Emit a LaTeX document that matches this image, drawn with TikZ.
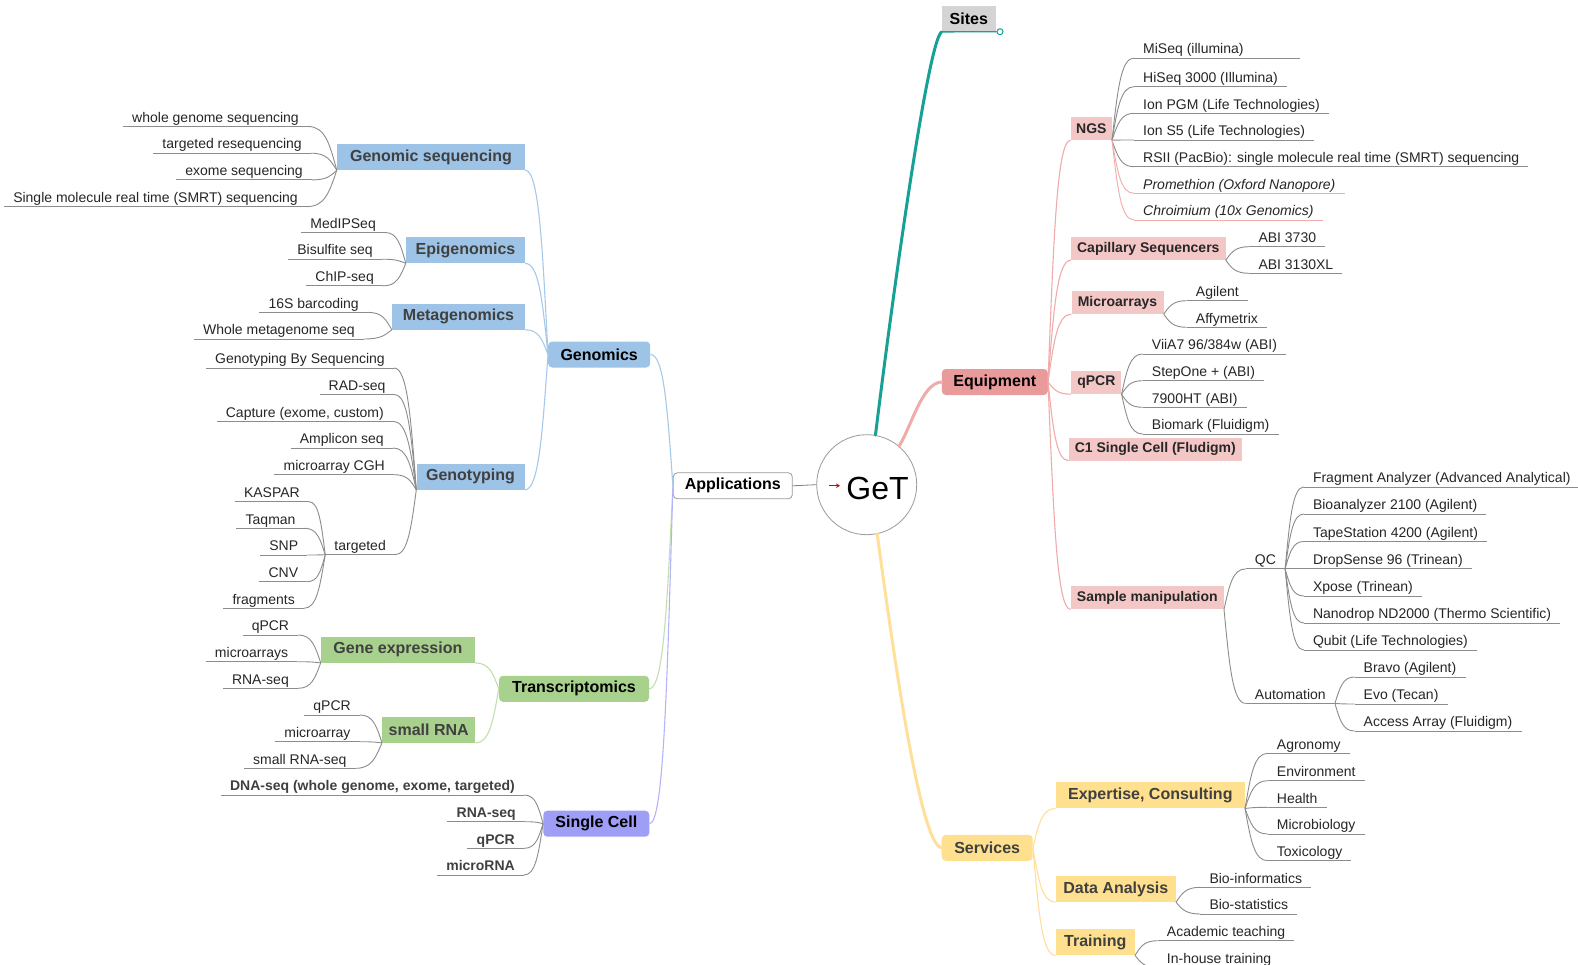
\documentclass[tikz,border=0pt]{standalone}
\usepackage{fontspec}
\setmainfont{Liberation Sans}
\usetikzlibrary{calc,arrows.meta}
\definecolor{blueF}{HTML}{9DC3E6}
\definecolor{blueL}{HTML}{A6C9EA}
\definecolor{greenF}{HTML}{A9D18E}
\definecolor{greenL}{HTML}{C2DFAE}
\definecolor{lavF}{HTML}{9E9EF7}
\definecolor{lavL}{HTML}{B4B4FA}
\definecolor{redF}{HTML}{E99A9A}
\definecolor{pinkF}{HTML}{F4C7C7}
\definecolor{pinkL}{HTML}{F0ABAB}
\definecolor{yelF}{HTML}{FFE08F}
\definecolor{yelL}{HTML}{FFE09A}
\definecolor{tealL}{HTML}{17A096}
\definecolor{sitesF}{HTML}{D4D4D4}
\definecolor{leafL}{HTML}{8C8C8C}
\definecolor{txt}{HTML}{262626}
\definecolor{dtxt}{HTML}{404040}
\definecolor{circG}{HTML}{9A9A9A}
\tikzset{
  leaf/.style={font=\fontsize{14}{16}\selectfont, text=txt, inner xsep=9pt, inner ysep=0pt, text height=11pt, text depth=4pt},
  ul/.style={color=leafL, line width=0.9pt},
  box/.style={inner xsep=6pt, inner ysep=0pt, minimum height=26pt, font=\fontsize{16}{18}\selectfont\bfseries, text=dtxt},
  lone/.style={box, rounded corners=4pt, text=black},
  ebox/.style={box, fill=pinkF, font=\fontsize{14}{16}\selectfont\bfseries, text=txt, minimum height=23pt},
  brl/.style={line width=1.1pt},
  mainbr/.style={line width=3pt, line cap=round},
}
\newcommand\mmlink[3][]{\draw[#1] let \p1=(#2), \p2=(#3) in (\p1) .. controls ({\x1+0.25*(\x2-\x1)},{\y1+0.6*(\y2-\y1)}) and ({\x1+0.4*(\x2-\x1)},\y2) .. (\p2);}
\newcommand\leafL[6][]{%
  \node[leaf,anchor=south east] (#2) at ({#4+9},#5) {#6};
  \draw[ul,#1] (#2.south east) -- (#2.south west);
  \mmlink[ul,#1]{#3}{#2.south east}}
\newcommand\leafR[6][]{%
  \node[leaf,anchor=south west] (#2) at ({#4-9},#5) {#6};
  \draw[ul,#1] (#2.south west) -- (#2.south east);
  \mmlink[ul,#1]{#3}{#2.south west}}
\newcommand\scb{\bfseries\color{dtxt}}
\begin{document}
\begin{tikzpicture}[x=1pt,y=-1pt]
\useasboundingbox (0,0) rectangle (1578,965);
\fill[white] (0,0) rectangle (1578,965);

% ---------- centre ----------
\node[circle, draw=circG, fill=white, minimum size=100pt, inner sep=0pt, line width=0.8pt] (get) at (866.7,484.7) {};
\node[font=\fontsize{32}{36}\selectfont, anchor=base, inner sep=0pt] (gett) at (877.5,499) {GeT};
\draw[red!85!black, line width=1pt, -{Stealth[length=4pt,width=4.5pt]}] (829,485.7) -- (840,485.7);
\node[lone, draw=circG, fill=white, minimum width=119pt, line width=0.8pt] (app) at (732.8,485.8) {Applications};
\draw[gray, line width=0.8pt] (app.east) -- (get.west);

% ---------- right level 1 ----------
\node[box, fill=sitesF, text=black, minimum width=54pt] (sites) at (968.8,18.7) {Sites};
\node[circle, draw=tealL, fill=white, inner sep=0pt, minimum size=6pt, line width=1pt] (sind) at (1000,31.7) {};
\node[lone, fill=redF, minimum width=106pt] (equip) at (994.8,382) {Equipment};
\node[lone, fill=yelF, text=dtxt, minimum width=91pt] (serv) at (987.2,847.8) {Services};

\draw[mainbr, tealL] (get.80) .. controls (892,300) and (928,40) .. (sites.south west);
\draw[tealL, line width=1.3pt] (sites.south west) -- (sind.west);
\draw[mainbr, pinkL] (get.50) .. controls (912,425) and (922,383) .. (equip.west);
\draw[mainbr, yelL] (get.-78) .. controls (893,650) and (920,845) .. (serv.west);

% ---------- left level 1 ----------
\node[lone, fill=blueF, minimum width=102pt] (gen) at (599.2,354.5) {Genomics};
\node[lone, fill=greenF, minimum width=150pt] (trs) at (574,688.8) {Transcriptomics};
\node[lone, fill=lavF, minimum width=106pt] (sc) at (596.3,823.7) {Single Cell};
\mmlink[brl, blueL]{app.west}{gen.east}
\mmlink[brl, greenL]{app.west}{trs.east}
\mmlink[brl, lavL]{app.west}{sc.east}

% ---------- Genomics ----------
\node[box, fill=blueF, minimum width=188pt] (gs) at (431,157) {Genomic sequencing};
\node[box, fill=blueF, minimum width=119pt] (epi) at (465.5,250.2) {Epigenomics};
\node[box, fill=blueF, minimum width=133pt] (meta) at (458.5,316.6) {Metagenomics};
\node[box, fill=blueF, minimum width=108pt] (gty) at (470.5,476.7) {Genotyping};
\mmlink[brl, blueL]{gen.west}{gs.south east}
\mmlink[brl, blueL]{gen.west}{epi.south east}
\mmlink[brl, blueL]{gen.west}{meta.south east}
\mmlink[brl, blueL]{gen.west}{gty.south east}

\leafL{l1}{gs.south west}{299}{126.5}{whole genome sequencing}
\leafL{l2}{gs.south west}{302}{153.2}{targeted resequencing}
\leafL{l3}{gs.south west}{303}{179.9}{exome sequencing}
\leafL{l4}{gs.south west}{298}{206.6}{Single molecule real time (SMRT) sequencing}

\leafL{e1}{epi.south west}{376}{232.5}{MedIPSeq}
\leafL{e2}{epi.south west}{373}{259.2}{Bisulfite seq}
\leafL{e3}{epi.south west}{374}{285.9}{ChIP-seq}

\leafL{m1}{meta.south west}{359}{312.4}{16S barcoding}
\leafL{m2}{meta.south west}{355}{339}{Whole metagenome seq}

\leafL{g1}{gty.south west}{385}{368}{Genotyping By Sequencing}
\leafL{g2}{gty.south west}{385.7}{394.7}{RAD-seq}
\leafL{g3}{gty.south west}{384}{421.3}{Capture (exome, custom)}
\leafL{g4}{gty.south west}{384}{448}{Amplicon seq}
\leafL{g5}{gty.south west}{385}{474.7}{microarray CGH}
\leafL{tg}{gty.south west}{386}{554.7}{targeted}
\leafL{t1}{tg.south west}{300}{501.7}{KASPAR}
\leafL{t2}{tg.south west}{295.7}{528.3}{Taqman}
\leafL{t3}{tg.south west}{298.3}{555}{SNP}
\leafL{t4}{tg.south west}{298.3}{581.7}{CNV}
\leafL{t5}{tg.south west}{295}{608.3}{fragments}

% ---------- Transcriptomics ----------
\node[box, fill=greenF, minimum width=154pt] (ge) at (397.9,649.7) {Gene expression};
\node[box, fill=greenF, minimum width=93pt] (sr) at (428.7,729.7) {small RNA};
\mmlink[brl, greenL]{trs.west}{ge.south east}
\mmlink[brl, greenL]{trs.west}{sr.south east}
\leafL{x1}{ge.south west}{289.3}{635}{qPCR}
\leafL{x2}{ge.south west}{288.3}{661.7}{microarrays}
\leafL{x3}{ge.south west}{289}{688.3}{RNA-seq}
\leafL{s1}{sr.south west}{351}{715}{qPCR}
\leafL{s2}{sr.south west}{350.7}{741.7}{microarray}
\leafL{s3}{sr.south west}{346.7}{768.3}{small RNA-seq}

% ---------- Single Cell ----------
\leafL{c1}{sc.west}{515}{795}{\scb DNA-seq (whole genome, exome, targeted)}
\leafL{c2}{sc.west}{516}{821.7}{\scb RNA-seq}
\leafL{c3}{sc.west}{515}{848.3}{\scb qPCR}
\leafL{c4}{sc.west}{515}{875}{\scb microRNA}

% ---------- Equipment ----------
\node[ebox, minimum width=41pt, inner xsep=3pt] (ngs) at (1091.3,128.5) {NGS};
\node[ebox, minimum width=153pt] (cap) at (1148.3,248.5) {Capillary Sequencers};
\node[ebox, minimum width=92pt] (mic) at (1117.5,302.5) {Microarrays};
\node[ebox, minimum width=49pt] (qp) at (1096.3,382.5) {qPCR};
\node[ebox, minimum width=167pt] (c1sc) at (1155.3,449) {C1 Single Cell (Fludigm)};
\node[ebox, minimum width=153pt] (sm) at (1147.3,597.7) {Sample manipulation};
\mmlink[brl, pinkL]{equip.east}{ngs.south west}
\mmlink[brl, pinkL]{equip.east}{cap.south west}
\mmlink[brl, pinkL]{equip.east}{mic.south west}
\mmlink[brl, pinkL]{equip.east}{qp.south west}
\mmlink[brl, pinkL]{equip.east}{c1sc.south west}
\mmlink[brl, pinkL]{equip.east}{sm.south west}

\leafR{n1}{ngs.south east}{1143}{58}{MiSeq (illumina)}
\draw[ul] (n1.south east) -- (1300,58);
\leafR{n2}{ngs.south east}{1143}{86.7}{HiSeq 3000 (Illumina)}
\leafR{n3}{ngs.south east}{1143}{113.3}{Ion PGM (Life Technologies)}
\leafR{n4}{ngs.south east}{1143}{140}{Ion S5 (Life Technologies)}
\leafR{n5}{ngs.south east}{1143}{166.7}{RSII (PacBio): single molecule real time (SMRT) sequencing}
\leafR[pinkL]{n6}{ngs.south east}{1143}{193.3}{\itshape Promethion (Oxford Nanopore)}
\leafR[pinkL]{n7}{ngs.south east}{1143}{220}{\itshape Chroimium (10x Genomics)}

\leafR{a1}{cap.south east}{1258.3}{246.7}{ABI 3730}
\leafR{a2}{cap.south east}{1258.3}{273.3}{ABI 3130XL}

\leafR{mi1}{mic.south east}{1195.7}{300.7}{Agilent}
\leafR{mi2}{mic.south east}{1195.7}{327.3}{Affymetrix}

\leafR{p1}{qp.south east}{1151.7}{354}{ViiA7 96/384w (ABI)}
\leafR{p2}{qp.south east}{1151.7}{380.7}{StepOne + (ABI)}
\leafR{p3}{qp.south east}{1151.7}{407.3}{7900HT (ABI)}
\leafR{p4}{qp.south east}{1151.7}{434}{Biomark (Fluidigm)}

\leafR{qc}{sm.south east}{1254.7}{568.9}{QC}
\leafR{au}{sm.south east}{1254.7}{703.4}{Automation}
\leafR{q1}{qc.south east}{1312.8}{487}{Fragment Analyzer (Advanced Analytical)}
\leafR{q2}{qc.south east}{1312.8}{514}{Bioanalyzer 2100 (Agilent)}
\leafR{q3}{qc.south east}{1312.8}{541.5}{TapeStation 4200 (Agilent)}
\leafR{q4}{qc.south east}{1312.8}{568.9}{DropSense 96 (Trinean)}
\leafR{q5}{qc.south east}{1312.8}{596}{Xpose (Trinean)}
\leafR{q6}{qc.south east}{1312.8}{623}{Nanodrop ND2000 (Thermo Scientific)}
\leafR{q7}{qc.south east}{1312.8}{650}{Qubit (Life Technologies)}
\leafR{u1}{au.south east}{1363.5}{677}{Bravo (Agilent)}
\leafR{u2}{au.south east}{1363.5}{704}{Evo (Tecan)}
\leafR{u3}{au.south east}{1363.5}{731}{Access Array (Fluidigm)}

% ---------- Services ----------
\node[box, fill=yelF, minimum width=189pt] (exp) at (1150.3,795.3) {Expertise, Consulting};
\node[box, fill=yelF, minimum width=120pt] (da) at (1115.8,889) {Data Analysis};
\node[box, fill=yelF, minimum width=79pt] (trn) at (1095.3,942.2) {Training};
\mmlink[brl, yelL]{serv.east}{exp.south west}
\mmlink[brl, yelL]{serv.east}{da.south west}
\mmlink[brl, yelL]{serv.east}{trn.south west}

\leafR{v1}{exp.south east}{1276.7}{753.3}{Agronomy}
\leafR{v2}{exp.south east}{1276.7}{780.7}{Environment}
\leafR{v3}{exp.south east}{1276.7}{807.3}{Health}
\leafR{v4}{exp.south east}{1276.7}{834}{Microbiology}
\leafR{v5}{exp.south east}{1276.7}{860.7}{Toxicology}
\leafR{d1}{da.south east}{1209.3}{887.3}{Bio-informatics}
\leafR{d2}{da.south east}{1209.3}{914}{Bio-statistics}
\leafR{r1}{trn.south east}{1166.7}{940.7}{Academic teaching}
\leafR{r2}{trn.south east}{1166.7}{967.4}{In-house training}
\end{tikzpicture}
\end{document}
